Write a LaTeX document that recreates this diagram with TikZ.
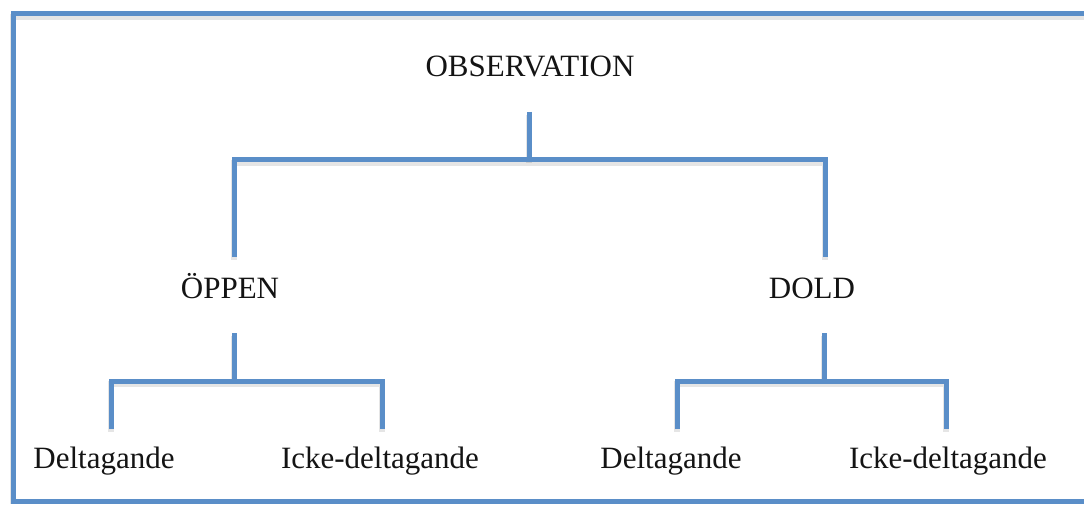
\documentclass[tikz,border=0pt]{standalone}
\usepackage{fontspec}
\setmainfont{Liberation Serif}
\definecolor{treeblue}{RGB}{90,142,200}
\tikzset{
  x=1pt, y=-1pt,
  link/.style={draw=treeblue, line width=5pt, line cap=butt, line join=miter},
  linkshadow/.style={draw=black, opacity=0.10, line width=6pt, transform canvas={yshift=-3pt}},
  label/.style={font=\fontsize{31}{37}\selectfont, anchor=base, inner sep=0pt, text=black!92}
}
\begin{document}
\begin{tikzpicture}
\useasboundingbox (0,0) rectangle (1084,505);
\clip (0,0) rectangle (1084,505);
\fill[white] (0,0) rectangle (1084,505);

% outer frame
\draw[linkshadow] (13,501) -- (13,14) -- (1100,14);
\draw[link] (13,501) -- (13,14) -- (1100,14) -- (1100,501) -- cycle;

% labels
\node[label] (obs)   at (530,77)  {OBSERVATION};
\node[label] (open)  at (230,298) {ÖPPEN};
\node[label] (hid)   at (812,298) {DOLD};
\node[label] (od)    at (104,468) {Deltagande};
\node[label] (oi)    at (380,468) {Icke-deltagande};
\node[label] (hd)    at (671,468) {Deltagande};
\node[label] (hi)    at (948,468) {Icke-deltagande};

% junction points of the tree
\coordinate (rootTop) at (529,112);
\coordinate (rootJ)   at (529,160);
\coordinate (barL)    at (234,160);
\coordinate (barR)    at (825,160);
\coordinate (openIn)  at (234,257);
\coordinate (hidIn)   at (825,257);
\coordinate (openTop) at (234,333);
\coordinate (openJ)   at (234,381);
\coordinate (oBarL)   at (111,381);
\coordinate (oBarR)   at (382,381);
\coordinate (odIn)    at (111,429);
\coordinate (oiIn)    at (382,429);
\coordinate (hidTop)  at (824,333);
\coordinate (hidJ)    at (824,381);
\coordinate (hBarL)   at (677,381);
\coordinate (hBarR)   at (946,381);
\coordinate (hdIn)    at (677,429);
\coordinate (hiIn)    at (946,429);

% soft shadows under the connectors
\draw[linkshadow] (openIn) -- (barL) -- (barR) -- (hidIn);
\draw[linkshadow] (rootTop) -- (rootJ);
\draw[linkshadow] (odIn) -- (oBarL) -- (oBarR) -- (oiIn);
\draw[linkshadow] (openTop) -- (openJ);
\draw[linkshadow] (hdIn) -- (hBarL) -- (hBarR) -- (hiIn);
\draw[linkshadow] (hidTop) -- (hidJ);

% connectors
\draw[link] (rootTop) -- (rootJ);
\draw[link] (openIn) -- (barL) -- (barR) -- (hidIn);
\draw[link] (openTop) -- (openJ);
\draw[link] (odIn) -- (oBarL) -- (oBarR) -- (oiIn);
\draw[link] (hidTop) -- (hidJ);
\draw[link] (hdIn) -- (hBarL) -- (hBarR) -- (hiIn);
\end{tikzpicture}
\end{document}
